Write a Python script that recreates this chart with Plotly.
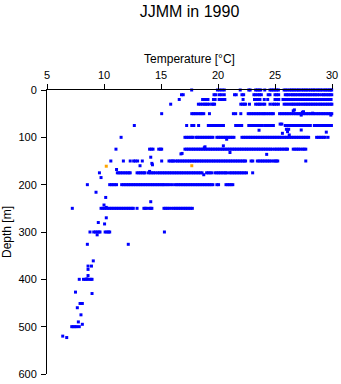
import plotly.graph_objects as go

# Temperature readings (deg C) at each standard sampling depth
t_000 = [17.69, 19.95, 20.15, 20.35, 20.55, 21.95, 22.7, 22.82, 23.3, 23.45, 23.6, 23.75, 24.1, 24.56, 24.7,
         24.85, 25.0, 25.15, 25.3, 25.8, 25.95, 26.12, 26.31, 26.44, 26.6, 26.73, 26.9, 27.04, 27.18, 27.36,
         27.49, 27.66, 27.79, 27.96, 28.12, 28.27, 28.41, 28.53, 28.72, 28.84, 29.01, 29.13, 29.32, 29.44,
         29.61, 29.74, 29.88, 29.97]
t_010 = [16.8, 16.95, 19.65, 19.8, 20.1, 20.3, 20.55, 21.45, 21.6, 22.1, 22.25, 23.15, 23.3, 23.5, 23.65,
         23.8, 24.4, 24.56, 25.0, 25.15, 25.32, 25.9, 26.05, 26.18, 26.38, 26.52, 26.66, 26.81, 26.95, 27.12,
         27.25, 27.41, 27.55, 27.7, 27.84, 28.0, 28.13, 28.3, 28.45, 28.58, 28.74, 28.9, 29.12, 29.26, 29.4,
         29.55, 29.7, 29.84, 29.98]
t_020 = [16.6, 18.65, 18.8, 18.95, 19.12, 19.6, 19.75, 20.1, 20.25, 20.4, 20.6, 22.2, 23.2, 23.35, 23.5,
         23.68, 24.06, 24.36, 25.0, 25.16, 25.33, 25.7, 25.86, 26.02, 26.18, 26.34, 26.5, 26.63, 26.8, 26.94,
         27.1, 27.23, 27.4, 27.55, 27.69, 27.83, 27.98, 28.14, 28.28, 28.43, 28.6, 28.73, 28.88, 29.04, 29.18,
         29.33, 29.47, 29.62, 29.78, 29.92]
t_030 = [15.85, 18.28, 18.45, 18.62, 18.8, 18.92, 19.08, 19.22, 19.45, 19.58, 19.7, 22.0, 22.15, 22.3, 22.42,
         22.76, 23.3, 23.48, 23.62, 23.75, 23.95, 24.1, 24.56, 24.8, 24.95, 25.12, 25.3, 25.8, 25.97, 26.14,
         26.32, 26.48, 26.61, 26.77, 26.92, 27.07, 27.21, 27.38, 27.53, 27.68, 27.82, 27.96, 28.11, 28.26,
         28.4, 28.56, 28.7, 28.86, 29.0, 29.15, 29.3, 29.45, 29.6, 29.74, 29.9, 29.99]
t_050 = [15.06, 17.7, 17.85, 18.0, 18.15, 18.32, 18.48, 18.6, 18.75, 19.25, 21.35, 21.55, 22.0, 22.65, 22.8,
         22.95, 23.1, 23.25, 23.4, 23.55, 23.7, 23.85, 24.0, 24.12, 24.28, 24.44, 24.6, 24.74, 24.86, 25.4,
         25.55, 25.7, 25.85, 26.0, 26.15, 26.3, 26.45, 26.62, 26.78, 26.92, 27.06, 27.2, 27.35, 27.5, 27.65,
         27.8, 27.94, 28.1, 28.24, 28.39, 28.52, 28.68, 28.82, 28.97, 29.12, 29.26, 29.41, 29.56, 29.7, 29.85,
         29.98]
t_075 = [12.66, 17.25, 17.7, 17.88, 18.3, 19.15, 19.3, 19.46, 19.6, 19.76, 19.9, 20.05, 20.2, 20.35, 20.48,
         21.55, 21.72, 21.9, 22.08, 22.7, 22.85, 22.98, 23.12, 23.27, 23.43, 23.58, 23.72, 23.88, 24.1, 24.25,
         24.4, 24.55, 24.7, 24.86, 25.9, 26.05, 26.2, 26.35, 26.5, 26.65, 26.8, 26.95, 27.1, 27.25, 27.4,
         27.55, 27.7, 27.85, 28.0, 28.1, 28.45, 28.6, 28.75, 28.9, 29.05, 29.2, 29.35, 29.5, 29.65, 29.8,
         29.95]
t_100 = [11.5, 17.1, 17.25, 17.4, 17.55, 17.7, 17.8, 18.07, 18.2, 18.35, 18.5, 18.65, 18.8, 18.95, 19.1,
         19.25, 19.4, 19.55, 19.9, 20.05, 20.2, 20.35, 20.5, 20.65, 20.8, 20.95, 21.1, 21.25, 21.4, 22.1,
         22.25, 22.4, 22.55, 22.7, 22.85, 23.0, 23.15, 23.3, 23.45, 23.6, 23.75, 23.9, 24.05, 24.2, 24.35,
         24.5, 24.65, 24.8, 24.95, 25.1, 25.25, 25.4, 25.55, 25.7, 25.85, 26.0, 26.15, 26.3, 26.45, 26.6,
         26.75, 26.9, 27.05, 27.2, 27.35, 27.5, 27.65, 27.8, 27.95, 28.65, 28.8, 28.95, 29.1, 29.25, 29.4,
         29.65]
t_125 = [11.05, 14.0, 14.15, 14.3, 14.8, 14.95, 15.06, 17.1, 17.25, 17.4, 17.55, 17.7, 17.85, 18.0, 18.15,
         18.3, 18.45, 18.6, 18.75, 18.9, 19.05, 19.2, 19.35, 19.5, 19.65, 19.8, 19.95, 20.1, 20.25, 20.4,
         20.55, 20.7, 20.85, 21.0, 21.15, 21.3, 21.45, 21.6, 21.75, 21.9, 22.05, 22.2, 22.35, 22.5, 22.65,
         22.8, 22.95, 23.1, 23.25, 23.4, 23.55, 23.7, 23.85, 24.0, 24.15, 24.3, 24.45, 24.6, 24.75, 24.95,
         25.1, 25.25, 25.4, 25.55, 25.7, 25.85, 26.0, 26.1, 26.6, 26.75, 26.9, 27.05, 27.2, 27.4, 27.55,
         27.7]
t_150 = [10.6, 11.7, 12.3, 12.6, 12.75, 12.95, 13.36, 15.06, 15.7, 15.85, 16.0, 16.1, 16.3, 16.45, 16.6,
         16.75, 16.9, 17.05, 17.2, 17.35, 17.5, 17.65, 17.8, 17.95, 18.1, 18.25, 18.4, 18.55, 18.7, 18.85,
         19.0, 19.15, 19.3, 19.45, 19.6, 19.75, 19.9, 20.05, 20.2, 20.35, 20.5, 20.65, 20.8, 20.95, 21.1,
         21.25, 21.4, 21.55, 21.7, 21.85, 22.0, 22.15, 22.3, 22.42, 22.9, 23.05, 23.45, 23.6, 23.75, 23.9,
         24.05, 24.2, 24.35, 24.5, 24.65, 24.85, 25.0, 25.12, 25.24, 27.7]
t_175 = [9.6, 11.17, 11.3, 11.45, 11.6, 11.75, 11.9, 12.05, 12.2, 12.3, 12.9, 13.05, 13.2, 13.35, 13.5,
         13.6, 13.9, 14.05, 14.2, 14.35, 14.5, 14.7, 14.85, 15.0, 15.15, 15.3, 15.45, 15.6, 15.75, 15.9,
         16.05, 16.2, 16.35, 16.5, 16.65, 16.8, 16.95, 17.1, 17.25, 17.4, 17.55, 17.7, 17.85, 18.0, 18.15,
         18.3, 18.45, 18.6, 19.0, 19.15, 19.3, 19.45, 19.74, 19.9, 20.05, 20.2, 20.35, 20.5, 20.65, 20.76,
         21.0, 21.15, 21.3, 21.45, 21.6, 21.75, 21.9, 22.05, 22.2, 22.35, 22.5, 23.04]
t_200 = [8.54, 10.5, 10.65, 10.8, 10.95, 11.1, 11.55, 11.7, 11.85, 12.0, 12.15, 12.3, 12.45, 12.6, 12.75,
         12.9, 13.05, 13.2, 13.35, 13.5, 13.65, 13.8, 13.95, 14.1, 14.25, 14.4, 14.55, 14.7, 14.85, 15.0,
         15.15, 15.26, 15.44, 15.6, 15.78, 16.0, 16.25, 16.4, 16.55, 16.7, 16.85, 17.0, 17.15, 17.3, 17.45,
         17.6, 17.75, 17.9, 18.05, 18.2, 18.35, 18.5, 18.65, 18.8, 18.95, 19.1, 19.25, 19.4, 19.55, 19.9,
         20.05, 20.7, 20.85, 21.0, 21.15, 21.3]
t_250 = [7.22, 9.74, 9.9, 10.05, 10.2, 10.35, 10.5, 10.65, 10.8, 10.95, 11.1, 11.25, 11.4, 11.55, 11.7,
         11.85, 12.0, 12.15, 12.3, 12.45, 12.57, 12.9, 13.5, 13.62, 13.74, 13.97, 14.1, 14.2, 15.26, 15.4,
         15.55, 15.7, 15.9, 16.1, 16.25, 16.4, 16.55, 16.7, 16.85, 17.0, 17.15, 17.3, 17.45, 17.6, 17.75]
t_300 = [8.77, 9.1, 9.25, 9.4, 9.55, 9.65, 10.1, 10.25, 10.4, 10.5, 15.3]
t_400 = [7.83, 8.2, 8.35, 8.5, 8.7, 8.85, 8.95]
t_500 = [7.17, 7.3, 7.45, 7.6, 7.83]

standard_depths = [0, 10, 20, 30, 50, 75, 100, 125, 150, 175, 200, 250, 300, 400, 500]
standard_temps = [t_000, t_010, t_020, t_030, t_050, t_075, t_100, t_125, t_150, t_175, t_200, t_250,
                  t_300, t_400, t_500]

# Readings taken between the standard depths
extra_temp = [26.7, 26.6, 27.5, 27.4, 28.3, 27.3, 29.9, 25.45, 25.6, 23.6, 25.65, 26.1, 26.25, 27.3, 29.5,
              26.0, 26.2, 20.76, 20.47, 18.8, 18.86, 16.75, 16.85, 21.05, 24.27, 14.1, 14.2, 14.25, 13.16,
              11.1, 14.0, 18.75, 9.74, 9.3, 10.15, 14.1, 10.0, 10.2, 10.2, 9.5, 10.05, 9.4, 8.54, 12.13,
              9.06, 8.6, 8.9, 8.6, 8.6, 8.5, 7.5, 8.95, 7.9, 8.1, 7.66, 7.98, 7.75, 8.1, 6.38, 6.73]
extra_depth = [42, 44, 46, 47, 49, 53, 53, 72, 72, 85, 91.5, 88, 95, 84.5, 89,
               83, 83, 104, 118, 122, 120, 135, 134, 132, 136, 142, 155, 158, 160,
               168, 172, 179, 185, 216, 227, 236, 243, 248, 270, 280, 283, 306, 326, 326,
               361, 372, 372, 379, 392, 399, 427, 430, 451, 451, 460, 475, 490, 495, 520, 523]

# Flagged readings
flag_temp = [10.2, 17.7]
flag_depth = [161, 160]

temps, depths = [], []
for d, row in zip(standard_depths, standard_temps):
    temps.extend(row)
    depths.extend([d] * len(row))
temps.extend(extra_temp)
depths.extend(extra_depth)

FONT = "Liberation Sans, Arial, Helvetica, sans-serif"

fig = go.Figure()
fig.add_trace(go.Scatter(
    x=temps, y=depths, mode="markers", cliponaxis=False,
    marker=dict(symbol="square", size=3, color="#0000ff", line=dict(width=0)),
    hoverinfo="x+y",
))
fig.add_trace(go.Scatter(
    x=flag_temp, y=flag_depth, mode="markers", cliponaxis=False,
    marker=dict(symbol="square", size=3, color="#ffa500", line=dict(width=0)),
    hoverinfo="x+y",
))

fig.update_layout(
    width=341, height=384,
    margin=dict(l=47, r=9, t=90, b=10, autoexpand=False),
    paper_bgcolor="white", plot_bgcolor="white",
    showlegend=False,
    font=dict(family=FONT, color="black", size=11),
    title=dict(text="JJMM in 1990", x=0.5, xref="paper", xanchor="center",
               y=1 - 11 / 384, yref="container", yanchor="middle",
               font=dict(family=FONT, size=16, color="black")),
    xaxis=dict(
        range=[5, 30], side="top", tickvals=[5, 10, 15, 20, 25, 30],
        ticks="outside", ticklen=5, tickwidth=1, tickcolor="black",
        showline=True, linecolor="black", linewidth=1,
        showgrid=False, zeroline=False, automargin=False,
        tickfont=dict(size=11), ticklabelstandoff=1,
        title=dict(text="Temperature [°C]", font=dict(size=12), standoff=2),
    ),
    yaxis=dict(
        range=[600, 0], tickvals=[0, 100, 200, 300, 400, 500, 600],
        ticks="outside", ticklen=5, tickwidth=1, tickcolor="black",
        showline=True, linecolor="black", linewidth=1,
        showgrid=False, zeroline=False, automargin=False,
        tickfont=dict(size=11), ticklabelstandoff=2,
        title=dict(text="Depth [m]", font=dict(size=12), standoff=4),
    ),
)

fig.write_html("out.html")
